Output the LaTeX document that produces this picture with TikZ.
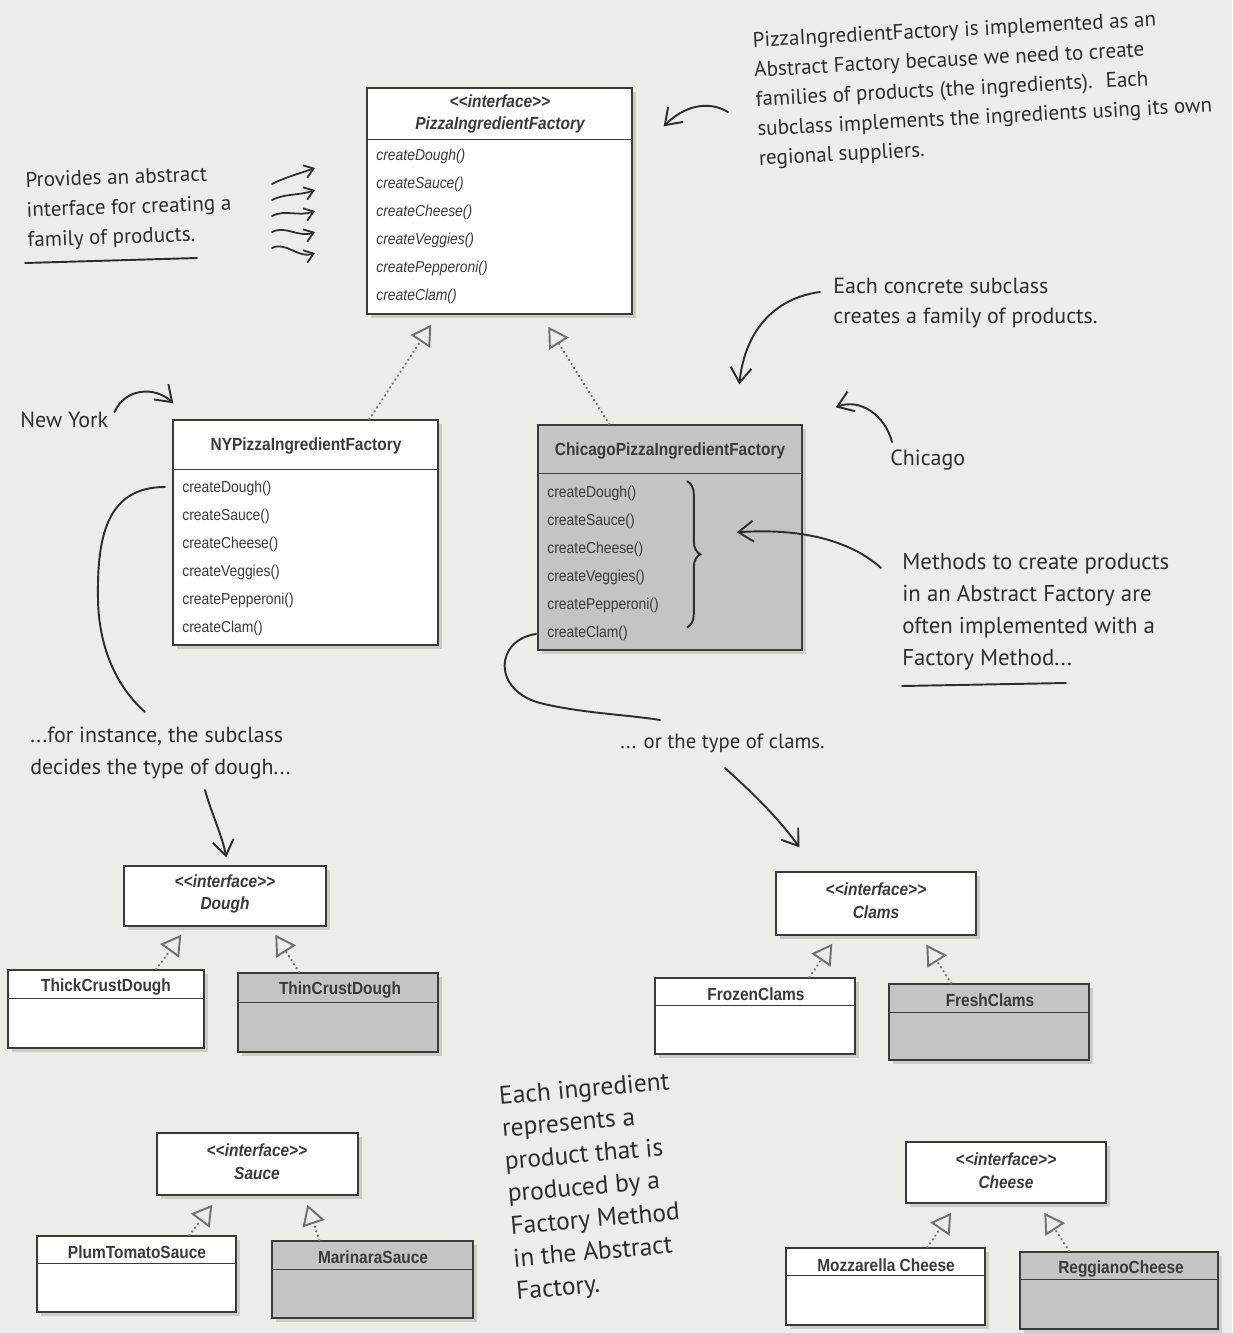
\documentclass[tikz,border=0pt]{standalone}
\usepackage{fontspec}
\newfontfamily\umlfont[FakeStretch=0.88]{Liberation Sans}
\newfontfamily\handfont{PT Sans}
\usepackage{tikz}
\usetikzlibrary{
  arrows.meta, positioning, fit, calc, shadows, decorations.pathreplacing
}
\definecolor{paper}{HTML}{ECECEA}
\definecolor{ink}{HTML}{2E2E2E}
\definecolor{umlink}{HTML}{3A3A3A}
\definecolor{umlgray}{HTML}{C4C4C4}
\definecolor{realizegray}{HTML}{707070}
\tikzset{
  classbox/.style={
    draw=umlink, line width=0.8pt, fill=white, inner sep=0pt,
    drop shadow={shadow xshift=2pt, shadow yshift=-2.5pt, opacity=0.3}
  },
  classboxgray/.style={classbox, fill=umlgray},
  sepline/.style={draw=umlink, line width=0.8pt},
  classname/.style={
    font=\umlfont\bfseries\fontsize{10}{12}\selectfont, text=umlink
  },
  ifacename/.style={
    font=\umlfont\bfseries\itshape\fontsize{10}{13}\selectfont,
    text=umlink, align=center
  },
  opslist/.style={
    font=\umlfont\fontsize{9}{15.9}\selectfont, text=umlink,
    align=left, anchor=north west, inner sep=0pt
  },
  absopslist/.style={
    opslist, font=\umlfont\itshape\fontsize{9}{15.9}\selectfont
  },
  realize/.style={
    draw=realizegray, line width=1.4pt, line cap=round,
    dash pattern=on 0.1pt off 2.6pt,
    -{Triangle[open, length=0.4cm, width=0.46cm, line width=1.1pt]}
  },
  handnote/.style={
    font=\handfont\fontsize{12}{16.8}\selectfont, text=ink,
    align=left, anchor=north west, inner sep=0pt
  },
  handarrow/.style={
    draw=ink, line width=1.1pt, line cap=round,
    -{Straight Barb[length=0.3cm, width=0.42cm, line width=1.1pt]}
  },
  smallarrow/.style={
    draw=ink, line width=1pt, line cap=round,
    -{Straight Barb[length=0.18cm, width=0.26cm, line width=1pt]}
  },
  handline/.style={draw=ink, line width=1.1pt, line cap=round},
}

\begin{document}
\begin{tikzpicture}[x=0.02cm, y=-0.02cm]
  \useasboundingbox (0,0) rectangle (1232,1333);
  \fill[paper] (0,0) rectangle (1232,1333);

  % Abstract factory
  \node[classbox, fit={(367,88) (632,314)}] (pif) {};
  \draw[sepline] ($(pif.north west)+(0,52)$) -- ($(pif.north east)+(0,52)$);
  \node[ifacename] (pifname) at (500,114)
    {<{}<interface>{}>\\PizzaIngredientFactory};
  \node[absopslist] (pifops) at (376,149)
    {createDough()\\createSauce()\\createCheese()\\createVeggies()\\
     createPepperoni()\\createClam()};

  % Concrete factories
  \node[classbox, fit={(173,420) (438,645)}] (ny) {};
  \draw[sepline] ($(ny.north west)+(0,50)$) -- ($(ny.north east)+(0,50)$);
  \node[classname] (nyname) at (306,446) {NYPizzaIngredientFactory};
  \node[opslist] (nyops) at (182,481)
    {createDough()\\createSauce()\\createCheese()\\createVeggies()\\
     createPepperoni()\\createClam()};

  \node[classboxgray, fit={(538,425) (802,650)}] (chi) {};
  \draw[sepline] ($(chi.north west)+(0,49)$) -- ($(chi.north east)+(0,49)$);
  \node[classname] (chiname) at (670,451) {ChicagoPizzaIngredientFactory};
  \node[opslist] (chiops) at (547,486)
    {createDough()\\createSauce()\\createCheese()\\createVeggies()\\
     createPepperoni()\\createClam()};

  \draw[realize] ($(ny.north west)+(197,0)$) -- ($(pif.south west)+(65,10)$);
  \draw[realize] ($(chi.north west)+(72,0)$) -- ($(pif.south west)+(182,12)$);

  % Dough family
  \node[classbox, fit={(124,866) (326,926)}] (dough) {};
  \node[ifacename] (doughname) at (225,894) {<{}<interface>{}>\\Dough};
  \node[classbox, fit={(8,970) (204,1048)}] (thick) {};
  \draw[sepline] ($(thick.north west)+(0,29)$) -- ($(thick.north east)+(0,29)$);
  \node[classname] (thickname) at (106,987) {ThickCrustDough};
  \node[classboxgray, fit={(238,973) (438,1052)}] (thin) {};
  \draw[sepline] ($(thin.north west)+(0,30)$) -- ($(thin.north east)+(0,30)$);
  \node[classname] (thinname) at (340,990) {ThinCrustDough};
  \draw[realize] ($(thick.north west)+(149,0)$) -- ($(dough.south west)+(58,8)$);
  \draw[realize] ($(thin.north west)+(62,0)$) -- ($(dough.south west)+(152,8)$);

  % Clams family
  \node[classbox, fit={(776,872) (976,935)}] (clams) {};
  \node[ifacename] (clamsname) at (876,901) {<{}<interface>{}>\\Clams};
  \node[classbox, fit={(655,978) (855,1054)}] (frozen) {};
  \draw[sepline] ($(frozen.north west)+(0,28)$) -- ($(frozen.north east)+(0,28)$);
  \node[classname] (frozenname) at (756,994) {FrozenClams};
  \node[classboxgray, fit={(889,984) (1089,1060)}] (fresh) {};
  \draw[sepline] ($(fresh.north west)+(0,29)$) -- ($(fresh.north east)+(0,29)$);
  \node[classname] (freshname) at (990,1000) {FreshClams};
  \draw[realize] ($(frozen.north west)+(155,0)$) -- ($(clams.south west)+(57,8)$);
  \draw[realize] ($(fresh.north west)+(63,0)$) -- ($(clams.south west)+(151,9)$);

  % Sauce family
  \node[classbox, fit={(157,1133) (358,1195)}] (sauce) {};
  \node[ifacename] (saucename) at (257,1162) {<{}<interface>{}>\\Sauce};
  \node[classbox, fit={(37,1236) (236,1312)}] (plum) {};
  \draw[sepline] ($(plum.north west)+(0,28)$) -- ($(plum.north east)+(0,28)$);
  \node[classname] (plumname) at (137,1252) {PlumTomatoSauce};
  \node[classboxgray, fit={(272,1241) (473,1318)}] (marinara) {};
  \draw[sepline] ($(marinara.north west)+(0,29)$) -- ($(marinara.north east)+(0,29)$);
  \node[classname] (marinaraname) at (373,1257) {MarinaraSauce};
  \draw[realize] ($(plum.north west)+(153,0)$) -- ($(sauce.south west)+(56,9)$);
  \draw[realize] ($(marinara.north west)+(48,0)$) -- ($(sauce.south west)+(151,9)$);

  % Cheese family
  \node[classbox, fit={(906,1142) (1106,1203)}] (cheese) {};
  \node[ifacename] (cheesename) at (1006,1171) {<{}<interface>{}>\\Cheese};
  \node[classbox, fit={(786,1248) (985,1325)}] (mozz) {};
  \draw[sepline] ($(mozz.north west)+(0,28)$) -- ($(mozz.north east)+(0,28)$);
  \node[classname] (mozzname) at (886,1265) {Mozzarella Cheese};
  \node[classboxgray, fit={(1020,1252) (1218,1329)}] (reggiano) {};
  \draw[sepline] ($(reggiano.north west)+(0,28)$) -- ($(reggiano.north east)+(0,28)$);
  \node[classname] (reggianoname) at (1121,1269) {ReggianoCheese};
  \draw[realize] ($(mozz.north west)+(142,0)$) -- ($(cheese.south west)+(46,9)$);
  \draw[realize] ($(reggiano.north west)+(50,0)$) -- ($(cheese.south west)+(139,9)$);

  % Handwritten notes
  \node[handnote, rotate=3] (whynote) at (752,32)
    {PizzaIngredientFactory is implemented as an\\
     Abstract Factory because we need to create\\
     families of products (the ingredients).~ Each\\
     subclass implements the ingredients using its own\\
     regional suppliers.};
  \draw[handarrow] ($(whynote.north west)+(-24,80)$)
    .. controls (708,100) and (684,106) .. ($(pif.north east)+(31,39)$);

  \node[handnote, rotate=2, font=\handfont\fontsize{12}{17}\selectfont]
    (provnote) at (25,172)
    {Provides an abstract\\interface for creating a\\family of products.};
  \draw[handline] ($(provnote.north west)+(0,91)$)
    -- ($(provnote.north west)+(172,86)$);
  \foreach \ya/\yb in {184/168, 200/190, 216/211, 232/232, 248/253}
    \draw[smallarrow] (272,\ya) .. controls (286,\ya-7) and (298,\yb+6) .. (315,\yb);

  \node[handnote, anchor=west, font=\handfont\fontsize{12.5}{15}\selectfont]
    (nylabel) at (20,420) {New York};
  \draw[handarrow] ($(nylabel.east)+(6,-8)$)
    .. controls (125,388) and (155,386) .. ($(ny.north west)+(1,-16)$);

  \node[handnote, font=\handfont\fontsize{12.5}{17}\selectfont]
    (concnote) at (833,278)
    {Each concrete subclass\\creates a family of products.};
  \draw[handarrow] ($(concnote.north west)+(-13,14)$)
    .. controls (775,298) and (745,330) .. ($(chi.north west)+(202,-40)$);

  \node[handnote, anchor=west, font=\handfont\fontsize{12.5}{15}\selectfont]
    (chilabel) at (890,460) {Chicago};
  \draw[handarrow] ($(chilabel.west)+(2,-18)$)
    .. controls (885,415) and (860,398) .. ($(chi.north east)+(33,-17)$);

  \node[handnote, font=\handfont\fontsize{13}{18.2}\selectfont]
    (methnote) at (902,553)
    {Methods to create products\\in an Abstract Factory are\\
     often implemented with a\\Factory Method...};
  \draw[handline] ($(methnote.north west)+(0,133)$)
    -- ($(methnote.north west)+(164,130)$);
  \draw[handarrow] ($(methnote.north west)+(-21,15)$)
    .. controls (850,540) and (800,528) .. ($(chi.north east)+(-66,108)$);
  \draw[handline, decorate, decoration={brace, amplitude=0.26cm}]
    ($(chi.north west)+(150,57)$) -- ($(chi.north west)+(150,203)$);

  \node[handnote, font=\handfont\fontsize{12.5}{18.2}\selectfont]
    (instnote) at (30,727)
    {...for instance, the subclass\\decides the type of dough...};
  \draw[handline] ($(nyops.north west)+(-17,6)$)
    .. controls (105,487) and (97,540) .. (98,600)
    .. controls (99,650) and (118,688) .. ($(instnote.north west)+(115,-15)$);
  \draw[handarrow] ($(instnote.north west)+(175,63)$)
    .. controls (212,815) and (222,835) .. ($(dough.north west)+(103,-8)$);

  \node[handnote, anchor=west, font=\handfont\fontsize{11.8}{15}\selectfont]
    (clamnote) at (620,743) {... or the type of clams.};
  \draw[handline] ($(chiops.north west)+(-11,148)$)
    .. controls (495,640) and (492,690) .. (540,703)
    .. controls (580,713) and (630,715) .. ($(clamnote.west)+(40,-23)$);
  \draw[handarrow] ($(clamnote.west)+(105,25)$)
    .. controls (755,795) and (780,820) .. ($(clams.north west)+(24,-24)$);

  \node[handnote, rotate=5, font=\handfont\fontsize{14.5}{18.6}\selectfont]
    (ingrnote) at (498,1086)
    {Each ingredient\\represents a\\product that is\\produced by a\\
     Factory Method\\in the Abstract\\Factory.};
\end{tikzpicture}
\end{document}
